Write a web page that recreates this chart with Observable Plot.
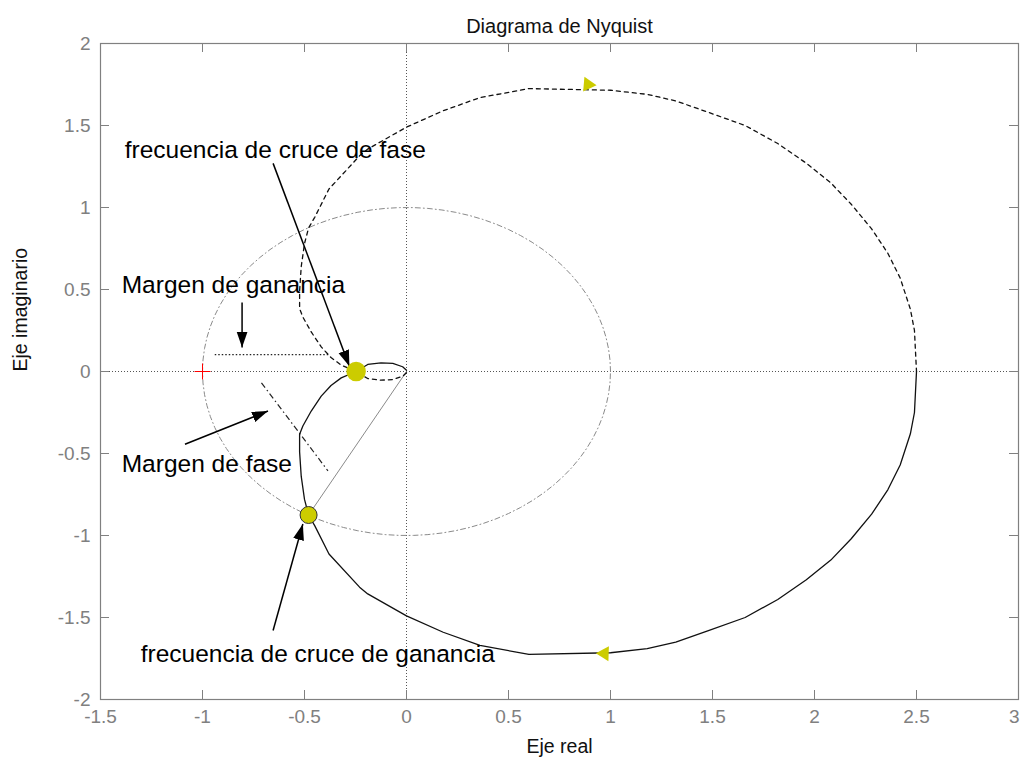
<!DOCTYPE html>
<html>
<head>
<meta charset="utf-8">
<script src="https://cdn.jsdelivr.net/npm/d3@7"></script>
<script src="https://cdn.jsdelivr.net/npm/@observablehq/plot@0.6"></script>
<style>
  html, body { margin: 0; padding: 0; background: #fff; overflow: hidden; }
  svg { display: block; }
</style>
</head>
<body>
<div id="chart"></div>
<script>
// ---- Data ----
// Nyquist curve, positive-frequency branch (solid), from w=0 to w=inf
const nyqRe = [2.50, 2.49, 2.47, 2.42, 2.36, 2.28, 2.18, 2.08, 1.96, 1.82, 1.66, 1.48, 1.32, 1.18, 1.00, 0.60, 0.36, 0.18, 0.00, -0.19, -0.23, -0.38, -0.45, -0.48, -0.50, -0.516, -0.524, -0.524, -0.508, -0.467, -0.418, -0.37, -0.32, -0.247, -0.19, -0.125, -0.067, -0.019, 0];
const nyqIm = [0, -0.25, -0.38, -0.57, -0.72, -0.87, -1.02, -1.15, -1.27, -1.39, -1.50, -1.58, -1.65, -1.69, -1.715, -1.725, -1.67, -1.59, -1.49, -1.356, -1.315, -1.113, -0.94, -0.875, -0.78, -0.64, -0.49, -0.383, -0.332, -0.241, -0.15, -0.085, -0.039, 0, 0.043, 0.053, 0.049, 0.029, 0.008];

// direction arrows on the curve
const dirRe = [0.89, 0.97];
const dirIm = [1.75, -1.72];
const dirRot = [95, -88];

// crossover markers
const phaseCross = {re: -0.247, im: 0};
const gainCross = {re: -0.48, im: -0.875};
const criticalPoint = {re: -1, im: 0};

// margin indicator lines
const gainMarginLine = {x1: -0.94, y1: 0.103, x2: -0.377, y2: 0.103};
const phaseMarginLine = {x1: -0.711, y1: -0.069, x2: -0.385, y2: -0.606};

// annotations
const labelText = ["frecuencia de cruce de fase", "Margen de ganancia", "Margen de fase", "frecuencia de cruce de ganancia"];
const labelX = [-1.381, -1.396, -1.396, -1.303];
const labelY = [1.35, 0.529, -0.565, -1.726];
const arrowX1 = [-0.654, -0.806, -1.086, -0.654];
const arrowY1 = [1.269, 0.42, -0.444, -1.579];
const arrowX2 = [-0.28, -0.806, -0.679, -0.508];
const arrowY2 = [0.032, 0.146, -0.241, -0.93];

// axes
const xTicks = [-1.5, -1, -0.5, 0, 0.5, 1, 1.5, 2, 2.5, 3];
const yTicks = [-2, -1.5, -1, -0.5, 0, 0.5, 1, 1.5, 2];
const titleText = "Diagrama de Nyquist";
const xLabel = "Eje real";
const yLabel = "Eje imaginario";

// ---- Derived tables ----
const posBranch = nyqRe.map((r, i) => ({re: r, im: nyqIm[i]}));
const negBranch = posBranch.map(d => ({re: d.re, im: -d.im})).reverse();
const unitCircle = d3.range(0, 361, 4).map(a => ({re: Math.cos(a * Math.PI / 180), im: Math.sin(a * Math.PI / 180)}));
const dirs = dirRe.map((r, i) => ({re: r, im: dirIm[i], rot: dirRot[i]}));
const labels = labelText.map((t, i) => ({t, x: labelX[i], y: labelY[i]}));
const arrows = arrowX1.map((x, i) => ({x1: x, y1: arrowY1[i], x2: arrowX2[i], y2: arrowY2[i]}));
const xTicksInner = xTicks.slice(0, -1);
const xTickLast = xTicks.slice(-1);

const W = 1020, H = 766;
const mL = 100, mR = 2, mT = 43, mB = 67;
const innerW = W - mL - mR, innerH = H - mT - mB;
const tickLen = 9;
const grey = "#808080";
const yellow = "#cccc00";

function headMarker(color) {
  return d3.create("svg:marker")
    .attr("viewBox", "-16 -6 16 12")
    .attr("markerWidth", 16)
    .attr("markerHeight", 12)
    .attr("markerUnits", "userSpaceOnUse")
    .attr("refX", 0)
    .attr("refY", 0)
    .attr("orient", "auto")
    .attr("fill", color)
    .attr("stroke", "none")
    .call(m => m.append("path").attr("d", "M0,0L-16,-5.5L-16,5.5Z"))
    .node();
}

const chart = Plot.plot({
  width: W,
  height: H,
  marginLeft: mL,
  marginRight: mR,
  marginTop: mT,
  marginBottom: mB,
  x: {domain: [-1.5, 3], axis: null},
  y: {domain: [-2, 2], axis: null},
  style: {fontFamily: "'Liberation Sans', Arial, Helvetica, sans-serif", background: "#fff"},
  marks: [
    // zero axes (dotted)
    Plot.ruleX([0], {stroke: "#555", strokeWidth: 1, strokeDasharray: "1,2"}),
    Plot.ruleY([0], {stroke: "#555", strokeWidth: 1, strokeDasharray: "1,2"}),
    // unit circle
    Plot.line(unitCircle, {x: "re", y: "im", stroke: "#8a8a8a", strokeWidth: 1, strokeDasharray: "5,3,1,3"}),
    // line from origin to gain crossover
    Plot.link([gainCross], {x1: () => 0, y1: () => 0, x2: "re", y2: "im", stroke: "#8a8a8a", strokeWidth: 1}),
    // margin lines
    Plot.link([gainMarginLine], {x1: "x1", y1: "y1", x2: "x2", y2: "y2", stroke: "#222", strokeWidth: 1.2, strokeDasharray: "1.5,2"}),
    Plot.link([phaseMarginLine], {x1: "x1", y1: "y1", x2: "x2", y2: "y2", stroke: "#222", strokeWidth: 1.2, strokeDasharray: "6,3,1.5,3"}),
    // Nyquist curve
    Plot.line(negBranch, {x: "re", y: "im", stroke: "#111", strokeWidth: 1.3, strokeDasharray: "4,4"}),
    Plot.line(posBranch, {x: "re", y: "im", stroke: "#111", strokeWidth: 1.3}),
    // annotation arrows
    Plot.link(arrows, {x1: "x1", y1: "y1", x2: "x2", y2: "y2", stroke: "#000", strokeWidth: 1.5, markerEnd: headMarker}),
    // annotation labels
    Plot.text(labels, {x: "x", y: "y", text: "t", textAnchor: "start", fontSize: 24.5, fill: "#000"}),
    // direction arrows
    Plot.dot(dirs, {x: "re", y: "im", symbol: "triangle", r: 5.5, fill: yellow, stroke: "none", rotate: "rot"}),
    // crossover markers
    Plot.dot([phaseCross], {x: "re", y: "im", r: 9, fill: yellow, stroke: yellow}),
    Plot.dot([gainCross], {x: "re", y: "im", r: 8.5, fill: yellow, stroke: "#333", strokeWidth: 1}),
    // critical point
    Plot.dot([criticalPoint], {x: "re", y: "im", symbol: "plus", r: 5.2, stroke: "red", strokeWidth: 1}),
    // frame and ticks
    Plot.frame({stroke: grey, strokeWidth: 1.2}),
    Plot.tickX(xTicks, {x: d => d, insetTop: innerH - tickLen, stroke: grey}),
    Plot.tickX(xTicks, {x: d => d, insetBottom: innerH - tickLen, stroke: grey}),
    Plot.tickY(yTicks, {y: d => d, insetRight: innerW - tickLen, stroke: grey}),
    Plot.tickY(yTicks, {y: d => d, insetLeft: innerW - tickLen, stroke: grey}),
    Plot.axisX(xTicksInner, {anchor: "bottom", tickSize: 0, tickPadding: 10, tickFormat: d => String(d), fontSize: 19, fill: grey, label: null}),
    Plot.text(xTickLast, {x: d => d, text: d => String(d), frameAnchor: "bottom", lineAnchor: "top", dy: 10, textAnchor: "end", dx: 1, fontSize: 19, fill: grey}),
    Plot.axisY(yTicks, {anchor: "left", tickSize: 0, tickPadding: 10, tickFormat: d => String(d), fontSize: 19, fill: grey, label: null}),
    // title and axis labels
    Plot.text([titleText], {text: d => d, frameAnchor: "top", dy: -25, fontSize: 20, fill: "#111"}),
    Plot.text([xLabel], {text: d => d, frameAnchor: "bottom", dy: 53, fontSize: 19.5, fill: "#111"}),
    Plot.text([yLabel], {text: d => d, frameAnchor: "left", dx: -80, rotate: -90, fontSize: 19.5, fill: "#111"})
  ]
});
document.getElementById("chart").appendChild(chart);
</script>
</body>
</html>
